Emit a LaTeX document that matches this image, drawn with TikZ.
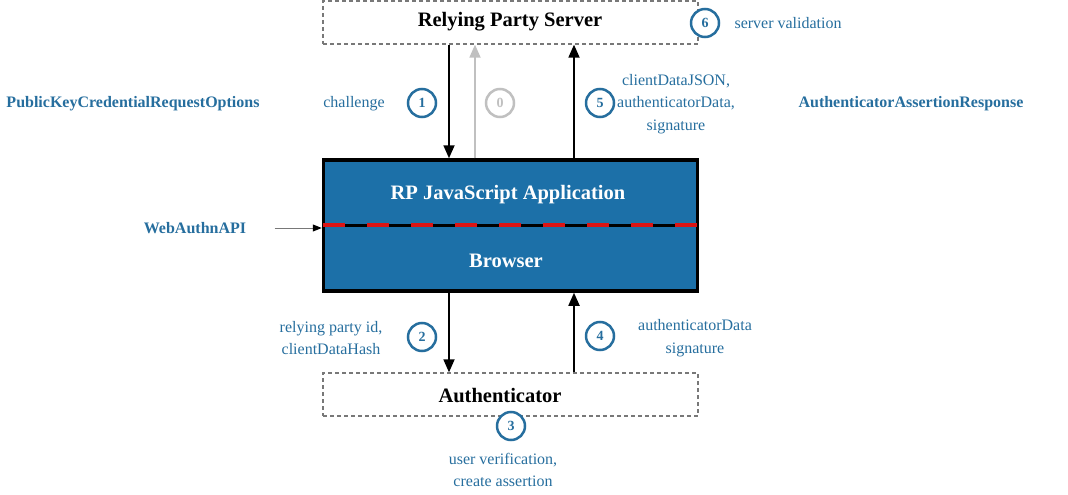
\documentclass[tikz,border=0pt]{standalone}
\usepackage{fontspec}
\setmainfont{Liberation Serif}
\usetikzlibrary{arrows.meta,calc}
\definecolor{lblue}{RGB}{38,110,158}
\definecolor{boxblue}{RGB}{28,112,168}
\definecolor{dgray}{RGB}{120,120,120}
\definecolor{lgray}{RGB}{192,192,192}
\definecolor{dred}{RGB}{220,20,20}
\tikzset{
  dbox/.style={draw=dgray, line width=1.3pt, dash pattern=on 4pt off 3pt, minimum width=375pt, minimum height=43pt, inner sep=0pt},
  btitle/.style={font=\fontsize{20.5}{22}\selectfont\bfseries},
  stepnum/.style={circle, draw=lblue, fill=white, line width=2.5pt, minimum size=28pt, inner sep=0pt, text=lblue, font=\fontsize{14}{16}\selectfont\bfseries},
  graynum/.style={stepnum, draw=lgray, text=lgray},
  lbl/.style={text=lblue, align=center, font=\fontsize{16}{22.5}\selectfont},
  blbl/.style={text=lblue, font=\fontsize{16}{18}\selectfont\bfseries},
  wlbl/.style={text=white, font=\fontsize{20.5}{22}\selectfont\bfseries},
  flow/.style={line width=1.8pt, -{Triangle[length=13pt,width=11pt]}},
}
\begin{document}
\begin{tikzpicture}[x=1pt,y=-1pt]
\useasboundingbox (0,0) rectangle (1068,495);
% boxes
\node[dbox] (server) at (510.5,22.5) {};
\node[btitle] (tserver) at (510,22) {Relying Party Server};
\node[dbox] (auth) at (510.5,394.5) {};
\node[btitle] (tauth) at (500,396) {Authenticator};
\node[draw=black, fill=boxblue, line width=3.5pt, minimum width=374pt, minimum height=131pt, inner sep=0pt] (app) at (510.5,225.5) {};
\node[wlbl] (rpjs) at (508,195) {RP JavaScript Application};
\node[wlbl] (browser) at (506,261) {Browser};
% separating line
\draw[line width=3pt] (app.west |- 0,225) -- (app.east |- 0,225);
\draw[dred, line width=4.5pt, dash pattern=on 22pt off 22pt] ($(app.west |- 0,225)+(1.5,0)$) -- ($(app.east |- 0,225)+(-1.5,0)$);
% x positions
\coordinate (c1) at (449,0);
\coordinate (c0) at (475,0);
\coordinate (c5) at (574,0);
% connectors
\draw[flow] (server.south -| c1) -- (app.north -| c1);
\draw[flow, lgray] (app.north -| c0) -- (server.south -| c0);
\draw[flow] (app.north -| c5) -- (server.south -| c5);
\draw[flow] (app.south -| c1) -- (auth.north -| c1);
\draw[flow] (auth.north -| c5) -- (app.south -| c5);
% step circles
\node[stepnum] (n1) at (422,103) {1};
\node[graynum] (n0) at (500,103) {0};
\node[stepnum] (n5) at (600,103) {5};
\node[stepnum] (n6) at (705,23) {6};
\node[stepnum] (n2) at (422,337) {2};
\node[stepnum] (n4) at (600,336) {4};
\node[stepnum] (n3) at (511,426) {3};
% labels
\node[lbl] (tchal) at (354,104) {challenge};
\node[lbl, anchor=west] (tsv) at (731,23) {server validation};
\node[lbl] (tcdj) at (676,104) {clientDataJSON,\\authenticatorData,\\signature};
\node[lbl] (trp) at (331,338) {relying party id,\\clientDataHash};
\node[lbl] (tad) at (695,338) {authenticatorData\\signature};
\node[lbl] (tuv) at (503,470) {user verification,\\create assertion};
\node[blbl] (tpk) at (133,104) {PublicKeyCredentialRequestOptions};
\node[blbl] (taar) at (911,104) {AuthenticatorAssertionResponse};
\node[blbl] (twa) at (195,228) {WebAuthnAPI};
\draw[dgray, line width=1pt, -{Triangle[length=9pt,width=7pt,black]}] (twa.east)+(25,0) -- (app.west |- twa.east);
\end{tikzpicture}
\end{document}
